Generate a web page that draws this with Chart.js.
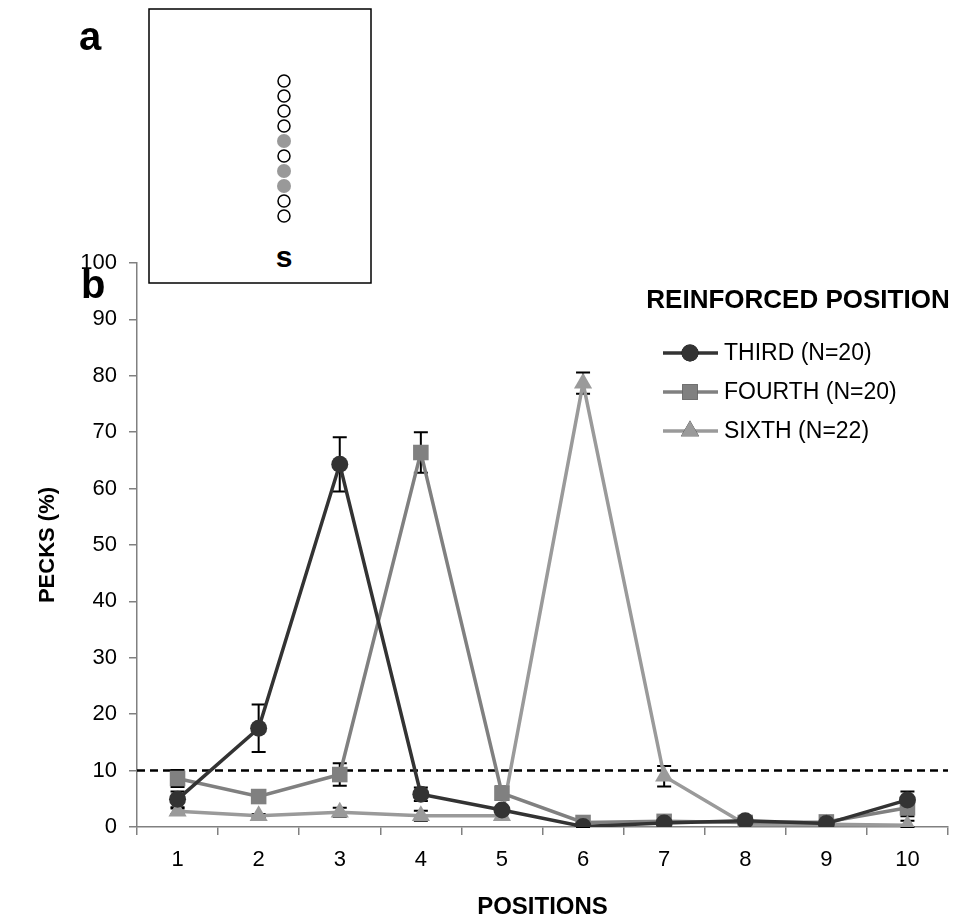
<!DOCTYPE html>
<html>
<head>
<meta charset="utf-8">
<script src="https://cdn.jsdelivr.net/npm/chart.js@4/dist/chart.umd.min.js"></script>
<style>
  body { margin: 0; background: #fff; }
  #wrap { position: relative; width: 964px; height: 922px; }
  #chart { position: absolute; left: 0; top: 0; }
  .panel { position: absolute; font: bold 40px "Liberation Sans", Arial, sans-serif; line-height: 1; }
  #inset { position: absolute; left: 148px; top: 8px; }
</style>
</head>
<body>
<div id="wrap">
  <canvas id="chart" width="964" height="922"></canvas>
  <svg id="inset" width="225" height="278"></svg>
  <div class="panel" style="left:79px; top:16px;">a</div>
  <div class="panel" style="left:81px; top:264px;">b</div>
</div>
<script>
// positions along the stimulus row
var positions = ['1', '2', '3', '4', '5', '6', '7', '8', '9', '10'];

// mean pecks (%) and error (SEM) per group
var third = [4.9, 17.5, 64.3, 5.8, 3.0, 0.1, 0.7, 1.1, 0.6, 4.8];
var thirdErr = [1.4, 4.2, 4.8, 1.2, 0.6, 0.1, 0.2, 0.3, 0.2, 1.5];
var fourth = [8.6, 5.4, 9.3, 66.4, 6.0, 0.8, 1.0, 0.8, 0.9, 3.4];
var fourthErr = [1.5, 1.0, 2.0, 3.6, 1.2, 0.2, 0.3, 0.3, 0.3, 1.5];
var sixth = [2.8, 2.0, 2.6, 2.0, 2.0, 78.7, 9.0, 0.5, 0.5, 0.3];
var sixthErr = [0.5, 0.3, 0.8, 0.9, 0.6, 1.9, 1.8, 0.2, 0.2, 0.8];

var seriesNames = ['THIRD (N=20)', 'FOURTH (N=20)', 'SIXTH (N=22)'];
var chanceLevel = 10;

// inset: which of the 10 keys are lit (top to bottom)
var insetLit = [false, false, false, false, true, false, true, true, false, false];

// --- inset drawing (panel a) ---
var svg = document.getElementById('inset');
var ns = 'http://www.w3.org/2000/svg';
var box = document.createElementNS(ns, 'rect');
box.setAttribute('x', 1); box.setAttribute('y', 1);
box.setAttribute('width', 222); box.setAttribute('height', 274);
box.setAttribute('fill', '#fff'); box.setAttribute('stroke', '#000'); box.setAttribute('stroke-width', 1.5);
svg.appendChild(box);
insetLit.forEach(function(lit, i) {
    var c = document.createElementNS(ns, 'circle');
    c.setAttribute('cx', 136);
    c.setAttribute('cy', 73 + i * 15);
    c.setAttribute('r', lit ? 7 : 6);
    c.setAttribute('fill', lit ? '#999' : '#fff');
    c.setAttribute('stroke', lit ? 'none' : '#000');
    c.setAttribute('stroke-width', 1.5);
    svg.appendChild(c);
});
var s = document.createElementNS(ns, 'text');
s.setAttribute('x', 136); s.setAttribute('y', 259);
s.setAttribute('text-anchor', 'middle');
s.setAttribute('font-family', 'Liberation Sans, Arial, sans-serif');
s.setAttribute('font-weight', 'bold');
s.setAttribute('font-size', 30);
s.textContent = 's';
svg.appendChild(s);

// --- chart (panel b) ---
var errors = [thirdErr, fourthErr, sixthErr];

// error bars go under the markers, like in the original
var errorBars = {
    id: 'errorBars',
    beforeDatasetsDraw: function(chart) {
        var ctx = chart.ctx;
        var y = chart.scales.y;
        ctx.save();
        ctx.strokeStyle = '#000';
        ctx.lineWidth = 2;
        chart.data.datasets.forEach(function(ds, i) {
            var meta = chart.getDatasetMeta(i);
            meta.data.forEach(function(pt, j) {
                var v = ds.data[j], e = errors[i][j];
                var top = y.getPixelForValue(v + e);
                var bot = y.getPixelForValue(Math.max(0, v - e));
                ctx.beginPath();
                ctx.moveTo(pt.x, top); ctx.lineTo(pt.x, bot);
                ctx.moveTo(pt.x - 7, top); ctx.lineTo(pt.x + 7, top);
                ctx.moveTo(pt.x - 7, bot); ctx.lineTo(pt.x + 7, bot);
                ctx.stroke();
            });
        });
        ctx.restore();
    }
};

var chanceLine = {
    id: 'chanceLine',
    beforeDatasetsDraw: function(chart) {
        var ctx = chart.ctx, area = chart.chartArea;
        var py = chart.scales.y.getPixelForValue(chanceLevel);
        ctx.save();
        ctx.strokeStyle = '#000';
        ctx.lineWidth = 2.5;
        ctx.setLineDash([8, 5]);
        ctx.beginPath();
        ctx.moveTo(area.left, py); ctx.lineTo(area.right, py);
        ctx.stroke();
        ctx.restore();
    }
};

var legendBox = {
    id: 'legendBox',
    afterDraw: function(chart) {
        var ctx = chart.ctx;
        ctx.save();
        ctx.fillStyle = '#000';
        ctx.textBaseline = 'middle';
        ctx.textAlign = 'center';
        ctx.font = 'bold 26px "Liberation Sans"';
        ctx.fillText('REINFORCED POSITION', 798, 301);
        ctx.textAlign = 'left';
        ctx.font = '23px "Liberation Sans"';
        chart.data.datasets.forEach(function(ds, i) {
            var ly = 353 + i * 39;
            ctx.strokeStyle = ds.borderColor;
            ctx.lineWidth = 3.5;
            ctx.beginPath();
            ctx.moveTo(663, ly); ctx.lineTo(718, ly);
            ctx.stroke();
            Chart.helpers.drawPoint(ctx, {
                pointStyle: ds.pointStyle, radius: ds.pointRadius, rotation: 0, borderWidth: 0
            }, 690, ly);
            ctx.fillStyle = ds.backgroundColor;
            ctx.fill();
            ctx.fillStyle = '#000';
            ctx.fillText(seriesNames[i], 724, ly + 1);
        });
        ctx.restore();
    }
};

function series(label, data, color, style, radius) {
    return {
        label: label,
        data: data,
        borderColor: color,
        backgroundColor: color,
        pointBackgroundColor: color,
        pointBorderColor: color,
        borderWidth: 3.5,
        pointStyle: style,
        pointRadius: radius,
        pointBorderWidth: 0,
        tension: 0
    };
}

var tickFont = { family: 'Liberation Sans', size: 22 };

new Chart(document.getElementById('chart').getContext('2d'), {
    type: 'line',
    data: {
        labels: positions,
        datasets: [
            series(seriesNames[0], third, '#333333', 'circle', 8.5),
            series(seriesNames[1], fourth, '#808080', 'rect', 11),
            series(seriesNames[2], sixth, '#9a9a9a', 'triangle', 10.5)
        ]
    },
    options: {
        responsive: false,
        animation: false,
        layout: { padding: { top: 263, right: 16, left: 0, bottom: 0 } },
        plugins: { legend: { display: false }, tooltip: { enabled: false } },
        scales: {
            x: {
                offset: true,
                grid: { offset: true, drawOnChartArea: false, color: '#808080', tickLength: 8, lineWidth: 1.5 },
                border: { color: '#808080', width: 1.5 },
                ticks: { color: '#000', font: tickFont, padding: 12, maxRotation: 0 },
                title: { display: true, text: 'POSITIONS', color: '#000',
                         font: { family: 'Liberation Sans', size: 24, weight: 'bold' }, padding: 0 },
                afterFit: function(scale) { scale.height = 95; }
            },
            y: {
                min: 0, max: 100,
                ticks: { stepSize: 10, color: '#000', font: tickFont, padding: 12 },
                grid: { drawOnChartArea: false, color: '#808080', tickLength: 8, lineWidth: 1.5 },
                border: { color: '#808080', width: 1.5 },
                title: { display: true, text: 'PECKS (%)', color: '#000',
                         font: { family: 'Liberation Sans', size: 22, weight: 'bold' }, padding: { top: 35 } },
                afterFit: function(scale) { scale.width = 137; }
            }
        }
    },
    plugins: [chanceLine, errorBars, legendBox]
});
</script>
</body>
</html>
